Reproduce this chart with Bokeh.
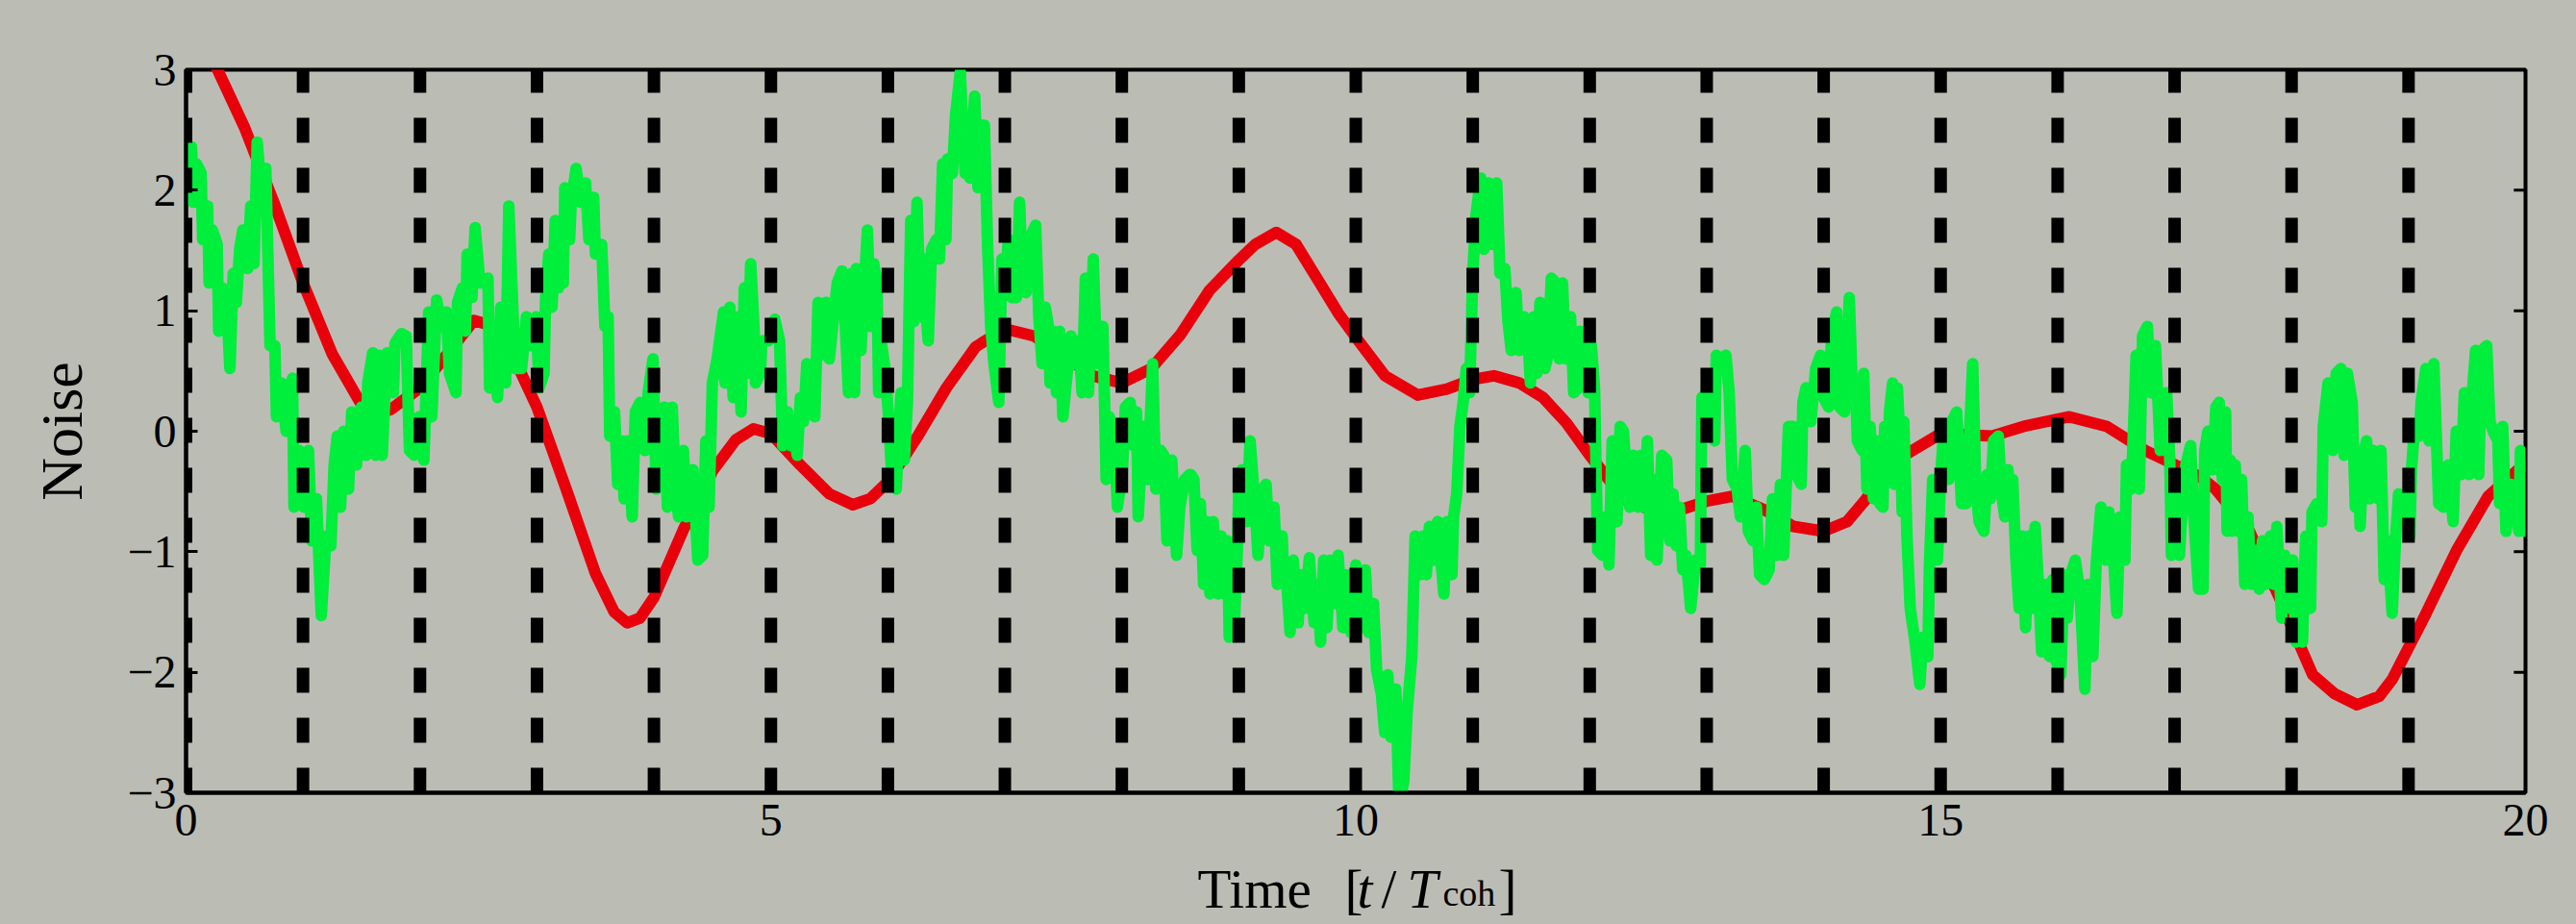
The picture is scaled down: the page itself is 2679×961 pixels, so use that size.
import math
from bokeh.plotting import figure
from bokeh.layouts import column
from bokeh.models import Range1d, FixedTicker, Label
from bokeh.embed import file_html
from bokeh.resources import INLINE

BG = "#BBBDB5"
RED = "#E8000B"
GREEN = "#00EE3C"
FONT = "Liberation Serif"

x_ticks = [0, 5, 10, 15, 20]
y_ticks = [-3, -2, -1, 0, 1, 2, 3]
y_tick_text = ["\u22123", "\u22122", "\u22121", "0", "1", "2", "3"]
coherence_marks = list(range(0, 20))

# smooth (red) signal
red_t = [0, 0.25, 0.5, 0.75, 1.0, 1.25, 1.5, 1.6, 1.75, 2.0, 2.25, 2.46, 2.6, 2.75, 3.0,
         3.25, 3.5, 3.66, 3.77, 3.88, 4.0, 4.25, 4.5, 4.7, 4.85, 5.0, 5.25, 5.5, 5.7, 5.85,
         6.0, 6.25, 6.5, 6.75, 7.0, 7.25, 7.5, 7.75, 8.0, 8.25, 8.5, 8.75, 9.0, 9.14, 9.32,
         9.49, 9.68, 9.85, 10.0, 10.25, 10.53, 10.78, 11.0, 11.18, 11.4, 11.6, 11.8, 12.0,
         12.29, 12.56, 12.78, 13.0, 13.22, 13.49, 13.74, 14.0, 14.2, 14.34, 14.62, 15.0,
         15.44, 15.71, 16.1, 16.42, 16.75, 17.05, 17.22, 17.35, 17.63, 17.9, 18.0, 18.18,
         18.37, 18.56, 18.75, 18.86, 19.13, 19.41, 19.68, 19.96, 20.0]
red_v = [3.45, 3.04, 2.52, 1.90, 1.23, 0.64, 0.22, 0.14, 0.18, 0.36, 0.66, 0.92, 0.88, 0.72,
         0.2, -0.48, -1.18, -1.50, -1.59, -1.55, -1.38, -0.82, -0.33, -0.07, 0.02, -0.02,
         -0.28, -0.52, -0.61, -0.56, -0.42, -0.05, 0.36, 0.70, 0.85, 0.79, 0.63, 0.46, 0.40,
         0.52, 0.80, 1.17, 1.42, 1.55, 1.65, 1.55, 1.25, 0.98, 0.78, 0.46, 0.30, 0.35, 0.43,
         0.46, 0.40, 0.28, 0.07, -0.2, -0.56, -0.67, -0.65, -0.58, -0.54, -0.65, -0.79, -0.83,
         -0.75, -0.59, -0.24, -0.02, -0.04, 0.04, 0.12, 0.04, -0.16, -0.30, -0.38, -0.48,
         -0.81, -1.39, -1.62, -2.02, -2.18, -2.27, -2.20, -2.06, -1.55, -0.99, -0.54, -0.3,
         -0.28]

# noisy (green) signal, (t, value) samples per time window
green_0_3 = [(0.02,1.95),(0.047,2.36),(0.06,1.90),(0.088,2.22),(0.129,2.14),(0.142,1.59),(0.184,1.87),(0.197,1.23),(0.225,1.67),(0.266,1.55),(0.279,0.83),(0.307,1.19),(0.348,1.03),(0.375,0.52),(0.403,1.31),(0.43,1.07),(0.458,1.51),(0.485,1.67),(0.526,1.35),(0.553,1.87),(0.581,1.39),(0.608,2.40),(0.649,1.90),(0.682,2.18),(0.718,0.71),(0.759,0.71),(0.773,0.12),(0.814,0.40),(0.855,0.00),(0.868,0.32),(0.91,0.44),(0.923,-0.63),(0.964,-0.16),(1.005,-0.63),(1.047,-0.16),(1.074,-0.91),(1.115,-0.56),(1.156,-1.53),(1.197,-0.87),(1.238,-0.95),(1.266,-0.28),(1.293,-0.04),(1.321,-0.63),(1.348,0.00),(1.389,-0.48),(1.416,0.16),(1.458,-0.28),(1.499,0.20),(1.54,-0.20),(1.553,0.40),(1.595,0.65),(1.622,-0.20),(1.649,0.63),(1.677,-0.20),(1.718,0.65),(1.773,0.32),(1.786,0.73),(1.841,0.81),(1.882,0.79),(1.91,-0.16),(1.951,-0.20),(1.992,0.12),(2.033,-0.24),(2.074,0.99),(2.101,0.12),(2.142,1.09),(2.184,0.87),(2.225,0.99),(2.252,0.48),(2.307,0.32),(2.321,1.07),(2.362,1.19),(2.389,0.83),(2.403,1.47),(2.444,1.11),(2.471,1.69),(2.512,1.23),(2.553,1.23),(2.581,1.27),(2.595,0.36),(2.636,0.60),(2.663,0.28),(2.69,1.03),(2.732,0.40),(2.759,1.87),(2.814,0.52)]
green_3_6 = [(2.868,0.52),(2.910,0.95),(2.951,0.71),(2.992,0.95),(3.019,0.36),(3.060,0.48),(3.074,1.11),(3.101,1.47),(3.129,1.03),(3.156,1.75),(3.184,1.19),(3.211,1.43),(3.225,1.23),(3.238,2.02),(3.279,1.59),(3.293,1.90),(3.334,2.18),(3.375,1.90),(3.416,2.06),(3.444,1.59),(3.485,1.94),(3.499,1.47),(3.553,1.55),(3.581,0.87),(3.608,0.95),(3.622,-0.04),(3.663,0.16),(3.690,-0.44),(3.718,-0.08),(3.745,-0.56),(3.773,-0.08),(3.814,-0.71),(3.841,0.16),(3.882,0.24),(3.923,-0.16),(3.951,0.32),(3.992,0.60),(4.019,-0.48),(4.047,-0.16),(4.088,0.20),(4.115,-0.63),(4.156,0.20),(4.184,-0.48),(4.211,-0.71),(4.252,-0.16),(4.279,-0.71),(4.334,-0.32),(4.375,-1.07),(4.416,-1.03),(4.444,-0.08),(4.471,-0.63),(4.499,0.40),(4.540,0.60),(4.595,0.99),(4.608,0.40),(4.649,1.03),(4.677,0.28),(4.718,0.95),(4.745,0.16),(4.773,1.19),(4.800,0.48),(4.827,1.39),(4.855,0.87),(4.868,0.40),(4.910,0.48),(4.923,0.75),(4.978,0.75),(5.033,0.93),(5.074,0.75),(5.101,-0.12),(5.142,0.16),(5.170,-0.12),(5.211,-0.12),(5.225,-0.20),(5.252,0.28),(5.279,0.08),(5.307,0.56),(5.334,0.32),(5.375,0.12),(5.403,1.07),(5.430,0.63),(5.471,1.07),(5.499,0.60),(5.540,0.99),(5.567,1.23),(5.608,1.33),(5.636,0.87),(5.663,0.32),(5.690,1.31)]
green_6_9 = [(5.715,0.32),(5.729,1.35),(5.770,0.67),(5.797,1.19),(5.825,1.67),(5.852,0.87),(5.879,1.39),(5.907,1.23),(5.921,0.32),(5.948,0.71),(5.975,0.52),(6.003,0.16),(6.030,-0.32),(6.071,-0.48),(6.112,0.32),(6.140,-0.24),(6.167,0.24),(6.195,1.75),(6.222,0.91),(6.249,1.90),(6.277,0.95),(6.304,1.43),(6.332,0.91),(6.345,0.75),(6.373,1.51),(6.414,1.59),(6.441,1.43),(6.468,2.22),(6.496,1.59),(6.510,2.26),(6.551,2.14),(6.578,2.62),(6.619,2.98),(6.660,2.14),(6.674,2.50),(6.701,2.10),(6.742,2.78),(6.770,2.02),(6.797,2.54),(6.825,2.54),(6.852,1.55),(6.879,0.87),(6.907,0.56),(6.948,0.24),(6.975,1.43),(7.003,1.23),(7.030,1.59),(7.058,1.11),(7.099,1.11),(7.126,1.90),(7.153,1.19),(7.181,1.15),(7.208,1.59),(7.263,1.71),(7.290,0.95),(7.318,0.56),(7.345,1.03),(7.373,0.87),(7.386,0.40),(7.414,0.83),(7.441,0.32),(7.468,0.83),(7.496,0.12),(7.537,0.52),(7.564,0.79),(7.605,0.56),(7.633,0.75),(7.660,0.32),(7.688,1.27),(7.715,0.32),(7.756,1.43),(7.784,0.56),(7.811,0.87),(7.838,0.87),(7.866,-0.40),(7.893,0.12),(7.934,0.00),(7.962,-0.63),(8.003,-0.36),(8.030,0.20),(8.071,0.24),(8.099,-0.12),(8.126,0.16),(8.140,-0.71),(8.181,0.04),(8.222,-0.40),(8.263,0.56),(8.290,-0.48),(8.332,-0.16),(8.359,-0.20),(8.386,-0.91),(8.427,-0.24),(8.468,-1.03),(8.496,-0.63),(8.537,-0.40),(8.578,-0.36)]
green_9_12 = [(8.589,-0.36),(8.616,-0.40),(8.644,-0.99),(8.671,-0.60),(8.699,-1.27),(8.726,-0.75),(8.753,-1.35),(8.781,-0.75),(8.822,-1.35),(8.849,-0.87),(8.877,-1.35),(8.904,-0.91),(8.918,-1.71),(8.959,-1.67),(8.986,-1.03),(9.000,-0.48),(9.027,-0.32),(9.068,-0.75),(9.096,-0.08),(9.137,-0.60),(9.164,-1.03),(9.205,-0.48),(9.233,-0.44),(9.260,-0.91),(9.301,-0.63),(9.329,-1.27),(9.370,-0.87),(9.384,-1.19),(9.411,-1.27),(9.438,-1.67),(9.466,-1.07),(9.507,-1.59),(9.534,-1.19),(9.562,-1.47),(9.603,-1.05),(9.644,-1.59),(9.671,-1.27),(9.699,-1.75),(9.726,-1.07),(9.753,-1.63),(9.781,-1.07),(9.808,-1.43),(9.849,-1.03),(9.890,-1.63),(9.918,-1.19),(9.959,-1.67),(10.000,-1.11),(10.041,-1.63),(10.082,-1.15),(10.110,-1.67),(10.151,-1.43),(10.178,-1.98),(10.219,-2.18),(10.247,-2.50),(10.274,-2.02),(10.301,-2.54),(10.342,-2.14),(10.370,-3.10),(10.411,-2.90),(10.438,-2.34),(10.479,-1.87),(10.507,-0.87),(10.548,-1.19),(10.575,-0.87),(10.603,-1.19),(10.630,-0.79),(10.671,-1.07),(10.699,-0.75),(10.753,-1.35),(10.781,-0.75),(10.822,-1.19),(10.836,-0.71),(10.863,-0.52),(10.890,0.04),(10.918,0.24),(10.945,0.52),(10.973,0.32),(11.000,1.31),(11.027,1.79),(11.068,2.10),(11.096,1.51),(11.137,2.06),(11.164,1.55),(11.205,2.06),(11.233,1.31),(11.274,1.35),(11.301,0.91),(11.329,0.67),(11.370,1.15),(11.397,0.67),(11.438,0.95)]
green_12_14 = [(11.466,0.87),(11.493,0.40),(11.521,0.95),(11.548,0.48),(11.575,1.07),(11.616,0.52),(11.644,0.63),(11.671,1.27),(11.712,1.23),(11.740,0.60),(11.767,1.23),(11.795,0.60),(11.836,0.95),(11.863,0.32),(11.904,0.36),(11.918,0.83),(11.959,0.71),(11.986,0.32),(12.014,0.71),(12.041,0.36),(12.068,-0.99),(12.110,-1.03),(12.137,-0.71),(12.164,-1.11),(12.192,-0.08),(12.233,-0.75),(12.260,0.04),(12.288,0.00),(12.315,-0.40),(12.342,-0.63),(12.370,-0.20),(12.411,-0.63),(12.438,-0.20),(12.466,-0.63),(12.493,-0.08),(12.521,-1.03),(12.548,-0.40),(12.575,-1.07),(12.616,-0.20),(12.658,-0.24),(12.685,-0.91),(12.712,-0.52),(12.740,-0.95),(12.767,-0.63),(12.795,-1.15),(12.822,-1.03),(12.863,-1.47),(12.904,-1.07),(12.945,-1.11),(12.959,0.28),(13.000,0.32),(13.041,-0.04),(13.068,-0.08),(13.082,0.63),(13.123,0.60),(13.164,0.63),(13.192,0.32),(13.219,-0.40),(13.260,-0.48),(13.288,-0.71),(13.329,-0.16),(13.356,-0.83),(13.397,-0.91),(13.425,-0.63),(13.452,-1.19),(13.493,-1.23),(13.534,-1.15),(13.562,-0.56),(13.603,-1.03),(13.630,-0.44),(13.658,-1.03),(13.699,0.04),(13.740,0.04),(13.767,-0.36),(13.808,-0.44),(13.822,0.24),(13.849,0.36),(13.890,0.08),(13.932,0.52),(13.973,0.63),(14.000,0.28),(14.041,0.20),(14.068,0.79),(14.110,0.99),(14.137,0.20),(14.178,0.16),(14.219,1.11),(14.247,0.28),(14.274,0.32),(14.288,-0.08),(14.329,-0.16)]
green_14_17 = [(14.342,0.48),(14.370,-0.48),(14.397,0.04),(14.425,-0.56),(14.452,-0.08),(14.479,-0.60),(14.507,-0.63),(14.521,0.04),(14.548,-0.40),(14.562,0.16),(14.589,0.40),(14.603,-0.44),(14.630,0.36),(14.658,-0.20),(14.671,-0.67),(14.685,0.08),(14.712,-0.87),(14.740,-1.47),(14.781,-1.75),(14.822,-2.10),(14.849,-1.71),(14.890,-1.87),(14.904,-1.11),(14.932,-0.40),(14.973,-1.07),(15.000,-0.36),(15.027,0.00),(15.068,-0.40),(15.096,0.08),(15.137,0.16),(15.178,-0.60),(15.219,-0.60),(15.274,0.56),(15.301,-0.48),(15.329,-0.75),(15.370,-0.83),(15.397,-0.36),(15.425,-0.56),(15.452,-0.08),(15.493,-0.04),(15.521,-0.52),(15.548,-0.71),(15.575,-0.32),(15.603,-0.71),(15.616,-0.40),(15.644,-1.07),(15.671,-1.47),(15.699,-0.87),(15.726,-1.63),(15.753,-0.87),(15.781,-1.47),(15.808,-0.79),(15.836,-1.27),(15.863,-1.83),(15.904,-1.27),(15.932,-1.87),(15.959,-1.23),(15.986,-1.90),(16.027,-2.02),(16.055,-1.19),(16.082,-1.55),(16.110,-1.19),(16.151,-1.07),(16.192,-1.35),(16.233,-2.14),(16.260,-1.27),(16.301,-1.87),(16.329,-1.11),(16.370,-0.63),(16.411,-1.07),(16.438,-0.67),(16.479,-1.07),(16.507,-1.51),(16.534,-0.71),(16.575,-1.07),(16.589,-0.28),(16.630,-0.48),(16.671,0.63),(16.699,-0.48),(16.726,0.79),(16.767,0.87),(16.795,0.32),(16.836,0.71),(16.877,-0.16),(16.904,0.28),(16.932,0.32),(16.959,-0.24),(16.973,-1.03),(17.000,-0.40),(17.041,-1.03),(17.055,-0.79),(17.096,-0.28),(17.137,-0.12),(17.164,-0.71),(17.205,-1.31)]
green_17_20 = [(17.244,-1.31),(17.258,-0.16),(17.285,0.00),(17.326,-0.32),(17.353,0.20),(17.381,0.24),(17.408,-0.40),(17.436,0.16),(17.449,-0.83),(17.477,-0.24),(17.490,-0.83),(17.518,-0.28),(17.545,-0.83),(17.573,-0.40),(17.600,-1.27),(17.627,-0.71),(17.655,-1.27),(17.696,-0.99),(17.723,-1.31),(17.751,-0.91),(17.778,-1.27),(17.819,-0.87),(17.847,-1.27),(17.874,-0.79),(17.915,-1.55),(17.942,-1.03),(17.984,-1.47),(18.011,-1.07),(18.038,-1.75),(18.066,-1.43),(18.093,-1.75),(18.121,-0.87),(18.162,-1.47),(18.175,-0.67),(18.216,-0.60),(18.258,-0.75),(18.271,0.04),(18.312,0.40),(18.353,-0.16),(18.381,0.48),(18.422,0.52),(18.449,-0.20),(18.477,0.48),(18.518,0.24),(18.545,-0.63),(18.573,-0.28),(18.586,-0.79),(18.614,-0.20),(18.641,-0.08),(18.668,-0.56),(18.696,-0.16),(18.737,-0.56),(18.764,-0.16),(18.792,-1.23),(18.819,-0.91),(18.860,-1.51),(18.888,-0.91),(18.915,-0.52),(18.970,-0.56),(19.011,-0.87),(19.025,-0.32),(19.052,0.04),(19.093,-0.04),(19.107,0.24),(19.148,0.52),(19.175,-0.08),(19.216,0.56),(19.258,-0.60),(19.299,-0.63),(19.340,-0.28),(19.381,-0.75),(19.408,0.00),(19.449,-0.36),(19.477,0.32),(19.518,-0.36),(19.545,0.32),(19.573,0.67),(19.600,-0.36),(19.627,0.67),(19.668,0.71),(19.696,0.08),(19.723,0.00),(19.764,-0.08),(19.778,-0.60),(19.805,0.04),(19.833,-0.83),(19.874,-0.44),(19.915,-0.56),(19.942,-0.83),(19.956,-0.16),(19.984,-0.83)]

green_windows = [green_0_3, green_3_6, green_6_9, green_9_12, green_12_14, green_14_17, green_17_20]
green_t = [t for w in green_windows for (t, v) in w]
green_v = [v for w in green_windows for (t, v) in w]

W = 2670
BORDER_L, BORDER_R = 193, 44
x_range = Range1d(0, 20)

p = figure(width=W, height=895, output_backend="svg", toolbar_location=None,
           x_range=x_range, y_range=Range1d(-3, 3),
           min_border_left=BORDER_L, min_border_right=BORDER_R, min_border_top=72,
           min_border_bottom=71, background_fill_color=BG, border_fill_color=BG)
p.xgrid.visible = False
p.ygrid.visible = False
p.outline_line_color = "black"
p.outline_line_width = 4

for ax, ticks in ((p.xaxis[0], x_ticks), (p.yaxis[0], y_ticks)):
    ax.ticker = FixedTicker(ticks=ticks)
    ax.axis_line_color = "black"
    ax.axis_line_width = 4
    ax.major_tick_line_color = "black"
    ax.major_tick_line_width = 3
    ax.major_tick_in = 12
    ax.major_tick_out = 0
    ax.minor_tick_line_color = None
    ax.major_label_text_font = FONT
    ax.major_label_text_color = "black"
    ax.major_label_text_font_size = "48px"
p.xaxis[0].major_label_standoff = 12
p.yaxis[0].major_label_standoff = 10
p.yaxis[0].major_label_overrides = {t: s for t, s in zip(y_ticks, y_tick_text)}
p.yaxis[0].axis_label = "Noise"
p.yaxis[0].axis_label_text_font = FONT
p.yaxis[0].axis_label_text_font_size = "62px"
p.yaxis[0].axis_label_text_font_style = "normal"
p.yaxis[0].axis_label_text_color = "black"
p.yaxis[0].axis_label_standoff = 31

# inward tick marks on the right-hand frame edge
tick_len = 0.1
p.segment(x0=[20 - tick_len] * len(y_ticks), y0=y_ticks, x1=[20] * len(y_ticks), y1=y_ticks,
          line_color="black", line_width=3)

p.line(red_t, red_v, line_color=RED, line_width=12, line_join="round", line_cap="round")
p.line(green_t, green_v, line_color=GREEN, line_width=12, line_join="round", line_cap="round")
p.segment(x0=coherence_marks, y0=[-3] * len(coherence_marks),
          x1=coherence_marks, y1=[3] * len(coherence_marks),
          line_color="black", line_width=13, line_dash="26 26", line_cap="butt")

# x-axis title strip (same horizontal scale as the plot)
p2 = figure(width=W, height=66, output_backend="svg", toolbar_location=None, title=None,
            x_range=x_range, y_range=Range1d(0, 1), x_axis_type=None, y_axis_type=None,
            min_border_left=BORDER_L, min_border_right=BORDER_R, min_border_top=0,
            min_border_bottom=0, background_fill_color=BG, border_fill_color=BG)
p2.xgrid.visible = False
p2.ygrid.visible = False
p2.outline_line_color = None

base = 0.561
sub = 0.5
pieces = [
    ("Time", 8.648, base, "normal", "57px"),
    ("[", 9.905, base, "normal", "57px"),
    ("t", 10.012, base, "italic", "57px"),
    ("/", 10.218, base, "normal", "57px"),
    ("T", 10.440, base, "italic", "57px"),
    ("coh", 10.744, sub, "normal", "38px"),
    ("]", 11.221, base, "normal", "57px"),
]
for txt, x, y, style, size in pieces:
    p2.add_layout(Label(x=x, y=y, text=txt, text_font=FONT, text_font_style=style,
                        text_font_size=size, text_color="black",
                        text_align="left", text_baseline="alphabetic"))

layout = column(p, p2, spacing=0)
html = file_html(layout, INLINE)
html = html.replace("</head>", "<style>html,body{background:%s;}</style></head>" % BG, 1)
open("out.html", "w").write(html)
